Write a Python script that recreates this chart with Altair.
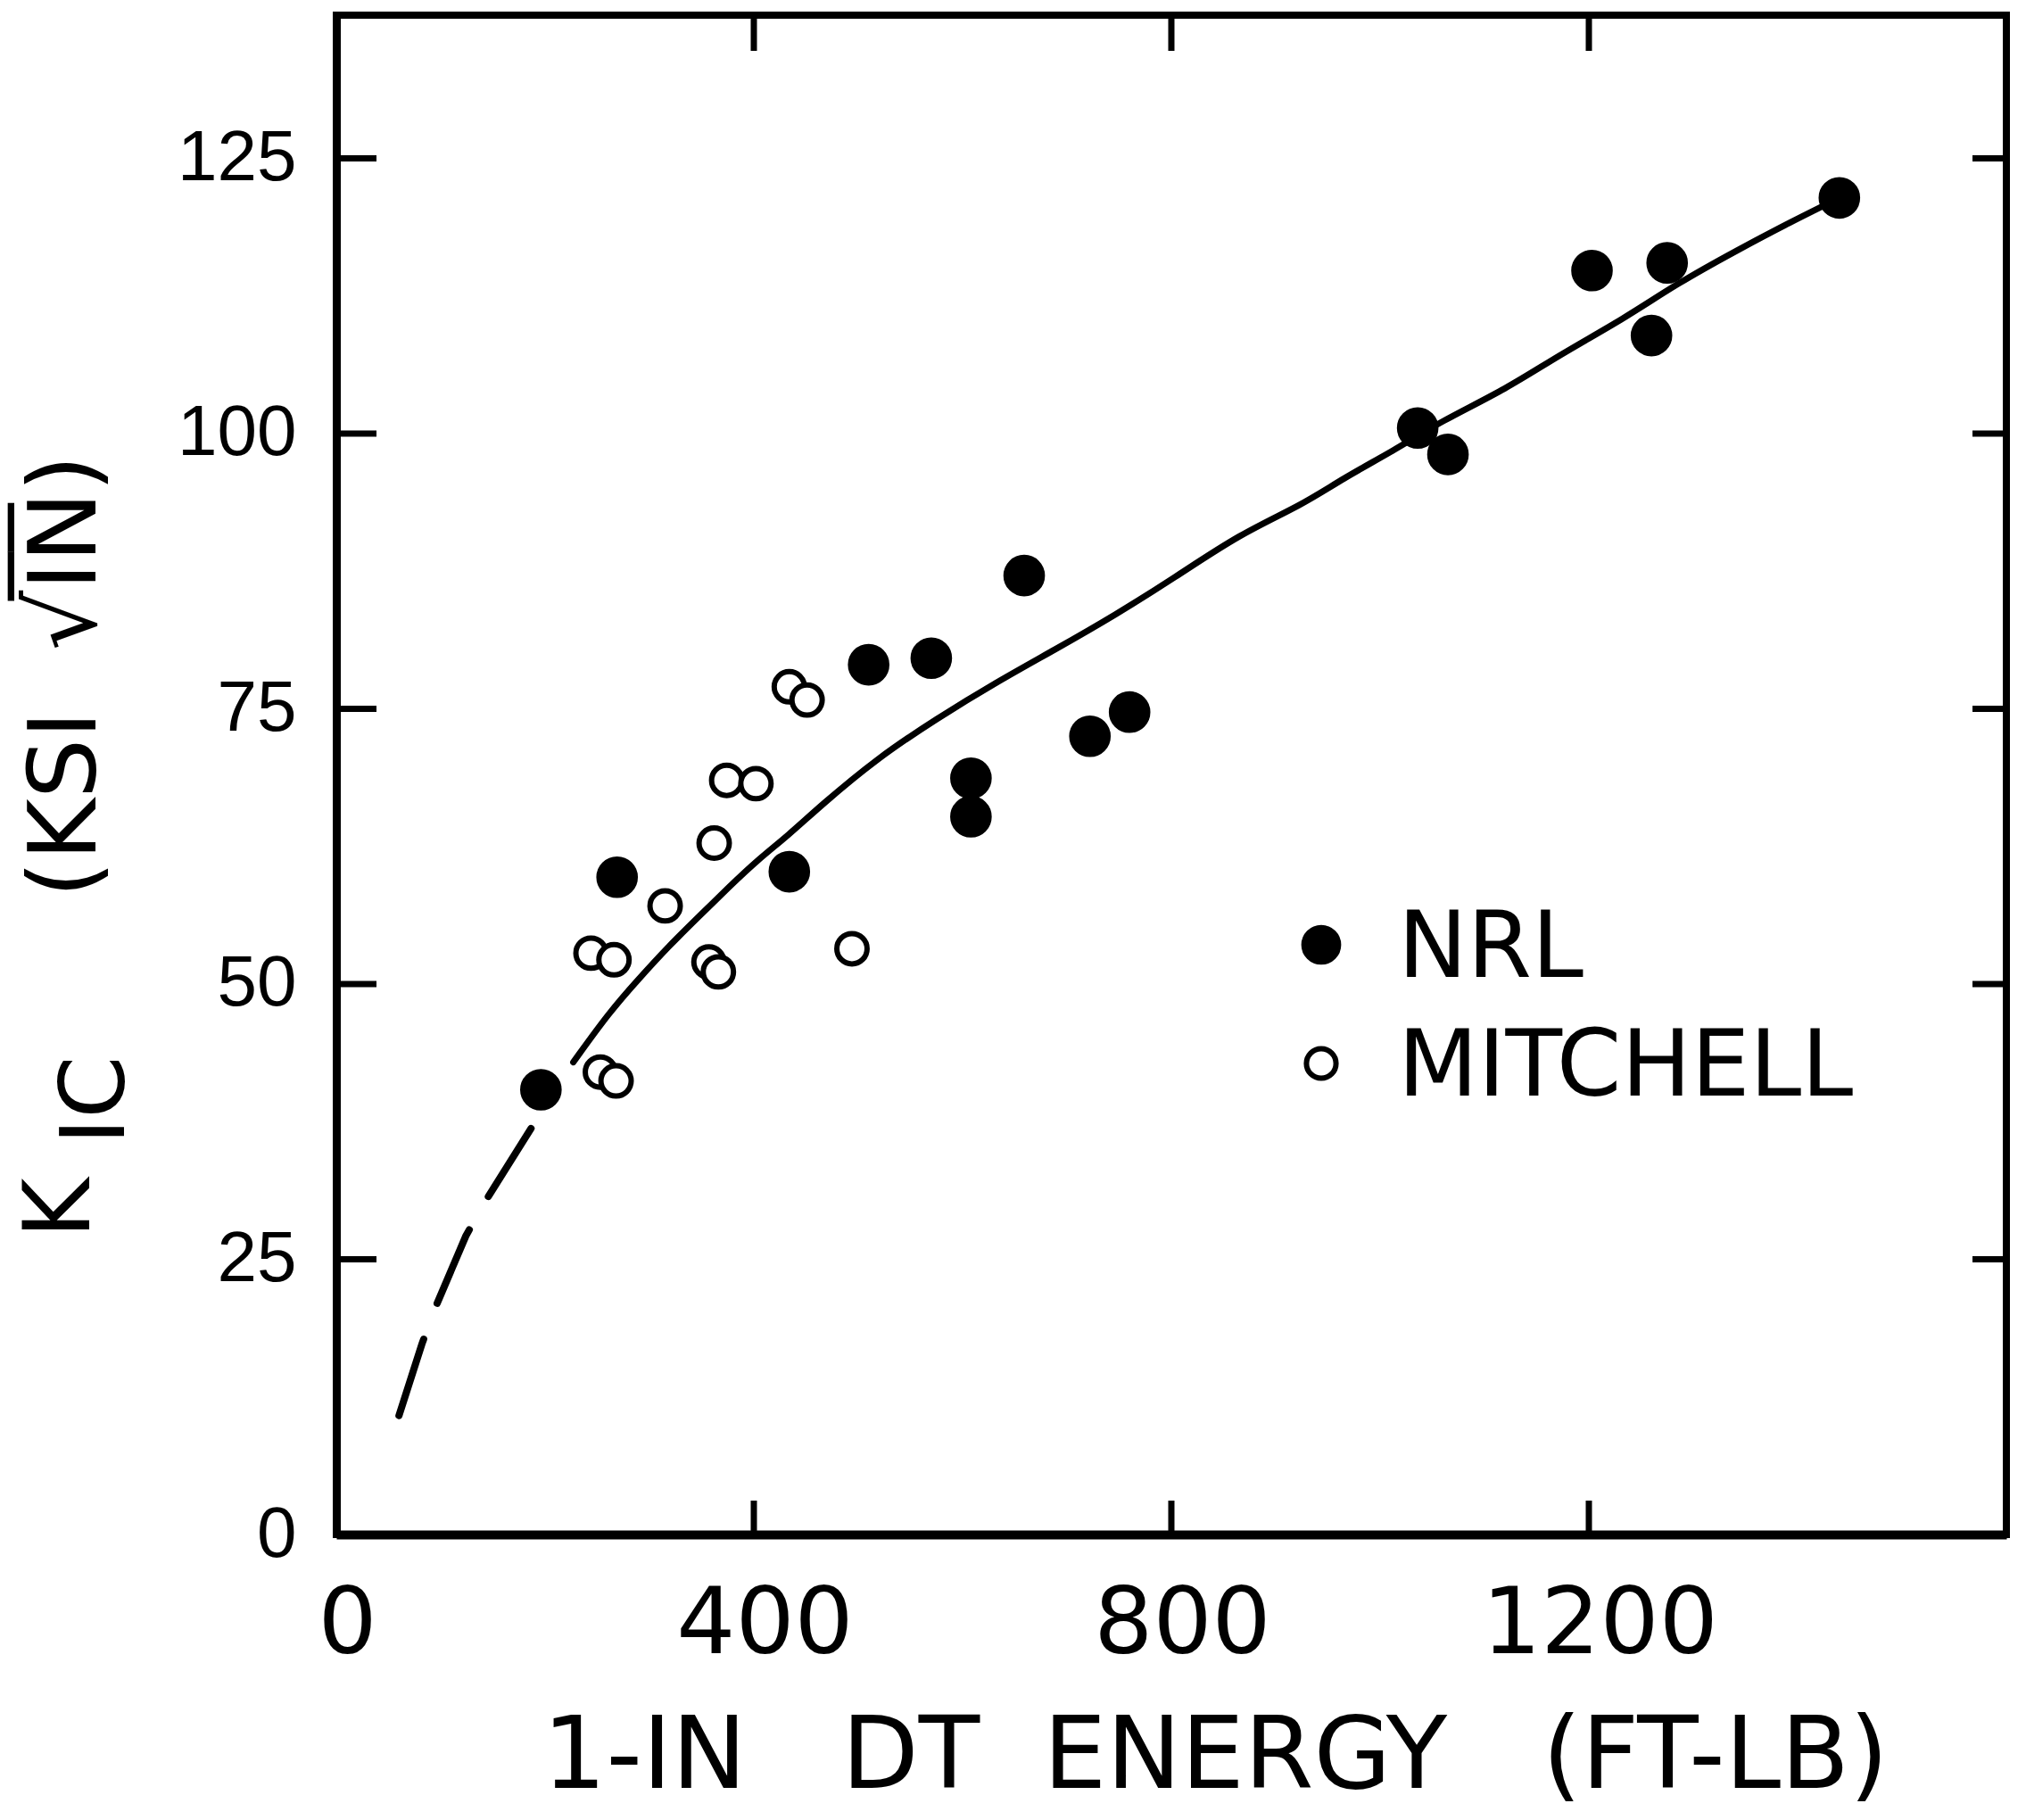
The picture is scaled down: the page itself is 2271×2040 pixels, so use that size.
import altair as alt
import pandas as pd

# ---- data -------------------------------------------------------------
series = ["NRL", "MITCHELL"]

# NRL: 1-in DT energy (ft-lb) and K_IC (ksi sqrt(in))
nrl_energy = [196, 269, 434, 510, 570, 659, 608, 608, 722, 760,
              1036, 1065, 1203, 1275, 1260, 1440]
nrl_kic = [40.4, 59.7, 60.2, 79.0, 79.6, 87.1, 68.7, 65.2, 72.5, 74.7,
           100.5, 98.1, 114.8, 115.5, 108.9, 121.4]

# Mitchell
mitchell_energy = [362, 315, 244, 266, 357, 366, 494, 253, 268, 434, 451, 374, 402]
mitchell_kic = [62.8, 57.1, 52.8, 52.2, 52.0, 51.1, 53.2, 42.0, 41.2, 77.0, 75.8, 68.5, 68.2]

# hand-fitted trend curve (solid part) and its extrapolation (dashed part)
curve_energy = [227, 262, 290, 319, 347, 376, 404, 433, 464, 518, 575, 632, 689,
                746, 803, 866, 925, 964, 1014, 1058, 1122, 1171, 1235, 1284,
                1343, 1393, 1440]
curve_kic = [42.9, 47.5, 50.5, 53.5, 56.1, 58.8, 61.3, 63.5, 66.2, 70.5, 74.1,
             77.4, 80.4, 83.5, 86.9, 90.9, 93.5, 95.9, 98.5, 101.1, 104.1,
             107.1, 110.5, 113.6, 116.7, 119.2, 121.4]
extrap_energy = [60, 82, 93, 124, 141, 188]
extrap_kic = [10.8, 17.3, 20.2, 27.1, 30.0, 37.1]

# axes
x_domain = [0, 1600]
y_domain = [0, 138]
x_labels = [0, 400, 800, 1200]
y_labels = [0, 25, 50, 75, 100, 125]
x_inner_ticks = [400, 800, 1200]
y_inner_ticks = [25, 50, 75, 100, 125]

NB = "\u00a0"
x_title = "1-IN" + NB * 3 + "DT" + NB * 2 + "ENERGY" + NB * 3 + "(FT-LB)"
y_title_k = "K"
y_title_sub = "IC"
y_title_unit = "(KSI" + NB * 2 + "\u221aI\u0305N\u0305)"

# ---- tables -----------------------------------------------------------
points = pd.DataFrame({
    "energy": nrl_energy + mitchell_energy,
    "kic": nrl_kic + mitchell_kic,
    "source": [series[0]] * len(nrl_energy) + [series[1]] * len(mitchell_energy),
})
curve = pd.DataFrame({"energy": curve_energy, "kic": curve_kic})
extrap = pd.DataFrame({"energy": extrap_energy, "kic": extrap_kic})

W, H = 1872, 1703
FONT = "DejaVu Sans"
LINE = 7

x_scale = alt.Scale(domain=x_domain, nice=False, zero=False)
y_scale = alt.Scale(domain=y_domain, nice=False, zero=False)

x_axis = alt.Axis(
    values=x_labels, format="d", grid=False, ticks=False, tickSize=0,
    domain=True, domainColor="black", domainWidth=10,
    labelFont=FONT, labelFontSize=104, labelColor="black", labelLimit=1000,
    labelPadding=50, labelOffset=12, labelFlush=False, labelOverlap=False,
    title=x_title, titleFont=FONT, titleFontSize=112, titleFontWeight="normal",
    titleColor="black", titleX=985, titleY=283, titleAlign="center",
    titleBaseline="alphabetic", titleLimit=3000,
)
y_axis = alt.Axis(
    values=y_labels, format="d", grid=False, ticks=False, tickSize=0,
    domain=True, domainColor="black", domainWidth=9,
    labelFont="Liberation Sans", labelFontSize=80, labelColor="black",
    labelLimit=1000, labelPadding=45, labelFlush=False, labelOverlap=False,
    title=None,
)

X = alt.X("energy:Q", scale=x_scale, axis=x_axis)
Y = alt.Y("kic:Q", scale=y_scale, axis=y_axis)

# ---- trend curve --------------------------------------------------------
solid = alt.Chart(curve).mark_line(
    color="black", strokeWidth=LINE, interpolate="basis", strokeCap="round"
).encode(x=X, y=Y)

dashed = alt.Chart(extrap).mark_line(
    color="black", strokeWidth=LINE + 1, strokeDash=[90, 43], strokeCap="round"
).encode(x=X, y=Y)

# ---- data points ---------------------------------------------------------
pts = alt.Chart(points).mark_point(
    shape="circle", stroke="black", strokeWidth=6, opacity=1
).encode(
    x=X, y=Y,
    fill=alt.Fill("source:N", scale=alt.Scale(domain=series, range=["black", "white"]),
                  legend=None),
    size=alt.Size("source:N", scale=alt.Scale(domain=series, range=[1650, 1150]),
                  legend=None),
)

# ---- key (symbol + name for each series) -------------------------------
def key_entry(i, fill, size, row_y, text_y):
    row = pd.DataFrame({"source": [series[i]]})
    sym = alt.Chart(row).mark_point(
        shape="circle", stroke="black", strokeWidth=6, fill=fill, size=size, opacity=1
    ).encode(x=alt.value(1104), y=alt.value(row_y))
    lab = alt.Chart(row).mark_text(
        font=FONT, fontSize=104, color="black", align="left", baseline="alphabetic"
    ).encode(text="source:N", x=alt.value(1190), y=alt.value(text_y))
    return [sym, lab]

key = key_entry(0, "black", 1500, 1042, 1078) + key_entry(1, "white", 1100, 1175, 1211)

# ---- inward frame ticks --------------------------------------------------
def yticks(x0, x1):
    return alt.Chart(pd.DataFrame({"kic": y_inner_ticks})).mark_rule(
        color="black", strokeWidth=LINE
    ).encode(y=Y, x=alt.value(x0), x2=alt.value(x1))

def xticks(y0, y1):
    return alt.Chart(pd.DataFrame({"energy": x_inner_ticks})).mark_rule(
        color="black", strokeWidth=LINE
    ).encode(x=X, y=alt.value(y0), y2=alt.value(y1))

ticks = [yticks(0, 45), yticks(W - 38, W), xticks(H - 38, H), xticks(0, 40)]

# ---- rotated y-axis title: K_IC (KSI sqrt(IN)) ---------------------------
def rotated(text, size, x, y, align):
    return alt.Chart(pd.DataFrame({"t": [text]})).mark_text(
        angle=270, font=FONT, fontSize=size, color="black",
        align=align, baseline="alphabetic"
    ).encode(text="t:N", x=alt.value(x), y=alt.value(y))

y_title = [
    rotated(y_title_k, 103, -277, 1371, "left"),
    rotated(y_title_sub, 100, -238, 1266, "left"),
    rotated(y_title_unit, 106, -270, 741, "center"),
]

chart = alt.layer(solid, dashed, *ticks, pts, *key, *y_title).properties(
    width=W, height=H,
    autosize=alt.AutoSizeParams(type="none"),
    padding={"left": 377, "top": 17, "right": 22, "bottom": 320},
    background="white",
).configure_view(
    stroke="black", strokeWidth=8
)

chart.save("out.html", embed_options={"renderer": "svg", "actions": False})
